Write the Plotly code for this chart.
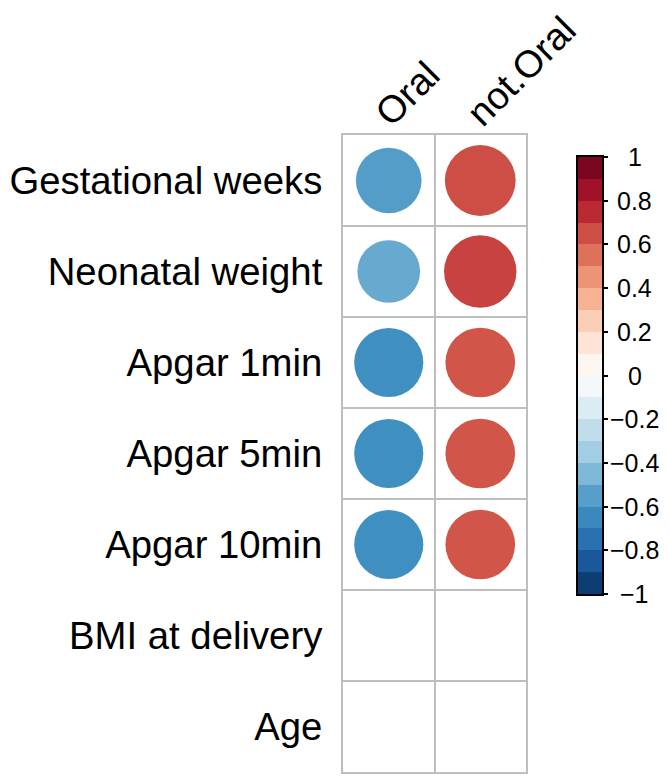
import numpy as np
import plotly.graph_objects as go

# ---- data ----
row_labels = ["Gestational weeks", "Neonatal weight", "Apgar 1min", "Apgar 5min",
              "Apgar 10min", "BMI at delivery", "Age"]
col_labels = ["Oral", "not.Oral"]
oral_vals = [-0.56, -0.51, -0.62, -0.62, -0.62, None, None]
not_oral_vals = [0.65, 0.68, 0.63, 0.63, 0.63, None, None]
cbar_ticks = [1, 0.8, 0.6, 0.4, 0.2, 0, -0.2, -0.4, -0.6, -0.8, -1]

# ---- RdBu palette (corrplot COL2) ----
pal = ["#053061", "#2166AC", "#4393C3", "#92C5DE", "#D1E5F0", "#FFFFFF",
       "#FDDBC7", "#F4A582", "#D6604D", "#B2182B", "#67001F"]
pal_pos = np.linspace(-1, 1, len(pal))

def hex2rgb(h):
    h = h.lstrip("#")
    return np.array([int(h[i:i + 2], 16) for i in (0, 2, 4)], dtype=float)

pal_rgb = np.array([hex2rgb(h) for h in pal])

def col_at(v):
    return [float(np.interp(v, pal_pos, pal_rgb[:, k])) for k in range(3)]

cont_scale = [[(p + 1) / 2, c] for p, c in zip(pal_pos, pal)]

nbins = 20
edges = np.linspace(-1, 1, nbins + 1)
centers = (edges[:-1] + edges[1:]) / 2
step_scale = []
for i, c in enumerate(centers):
    r, g, b = col_at(c)
    s = "rgb(%d,%d,%d)" % (round(r), round(g), round(b))
    step_scale.append([i / nbins, s])
    step_scale.append([(i + 1) / nbins, s])

# ---- layout geometry (page has an 8px body margin) ----
OFF = 8
W, H = 670 - OFF, 783 - OFF

def fx(px):
    return (px - OFF) / W

def fy(py):
    return 1 - (py - OFF) / H

size_k = 87.8  # circle diameter (px) per sqrt(|r|)

fig = go.Figure()

xs, ys, vs = [], [], []
for ci, series in enumerate([oral_vals, not_oral_vals]):
    for ri, v in enumerate(series):
        if v is None:
            continue
        xs.append(ci + 1)
        ys.append(ri + 1)
        vs.append(v)
vs = np.array(vs)

fig.add_trace(go.Scatter(
    x=xs, y=ys, mode="markers",
    marker=dict(size=size_k * np.sqrt(np.abs(vs)), color=vs, colorscale=cont_scale,
                cmin=-1, cmax=1, line=dict(width=0), opacity=1, showscale=False),
    hoverinfo="skip", showlegend=False, xaxis="x", yaxis="y"))

fig.add_trace(go.Heatmap(
    z=[[c] for c in centers], x=[0], y=centers, colorscale=step_scale,
    zmin=-1, zmax=1, showscale=False, xaxis="x2", yaxis="y2", hoverinfo="skip"))

grid_col = "#BEBEBE"
fig.update_layout(
    width=W, height=H, autosize=False,
    margin=dict(l=0, r=0, t=0, b=0, pad=0, autoexpand=False),
    paper_bgcolor="white", plot_bgcolor="white",
    font=dict(family="Liberation Sans, Arial, sans-serif", color="black"),
    xaxis=dict(domain=[fx(343), fx(526)], range=[0.5, 2.5], side="top",
               tickvals=[1, 2], ticktext=col_labels, tickangle=-45,
               tickfont=dict(size=38), showgrid=False, zeroline=False,
               showline=True, mirror=True, linecolor=grid_col, linewidth=2,
               ticks="", ticklabelstandoff=-16, ticklabelshift=-11,
               automargin=False,
               minor=dict(tick0=0.5, dtick=1, showgrid=True, gridcolor=grid_col,
                          gridwidth=2, ticks="")),
    yaxis=dict(domain=[fy(772), fy(135)], range=[7.5, 0.5],
               tickvals=list(range(1, 8)), ticktext=row_labels,
               tickfont=dict(size=38.3), showgrid=False, zeroline=False,
               showline=True, mirror=True, linecolor=grid_col, linewidth=2,
               ticks="", ticklabelstandoff=11, automargin=False,
               minor=dict(tick0=0.5, dtick=1, showgrid=True, gridcolor=grid_col,
                          gridwidth=2, ticks="")),
    xaxis2=dict(domain=[fx(578), fx(602)], range=[-0.5, 0.5], showticklabels=False,
                showgrid=False, zeroline=False, showline=True, mirror=True,
                linecolor="black", linewidth=2, ticks="", anchor="y2",
                automargin=False),
    yaxis2=dict(domain=[fy(594), fy(157)], range=[-1, 1], side="right",
                tickvals=cbar_ticks, showticklabels=False, ticks="outside",
                ticklen=4, tickwidth=2, tickcolor="black", showgrid=False,
                zeroline=False, showline=True, mirror=True, linecolor="black",
                linewidth=2, anchor="x2", automargin=False),
)

for t in cbar_ticks:
    txt = ("%g" % t).replace("-", "\u2212")
    fig.add_annotation(x=(635 - 578) / 24, y=t, xref="x2 domain", yref="y2",
                       text=txt, showarrow=False, xanchor="center", yanchor="middle",
                       font=dict(size=25, color="black"))

fig.write_html("out.html")
